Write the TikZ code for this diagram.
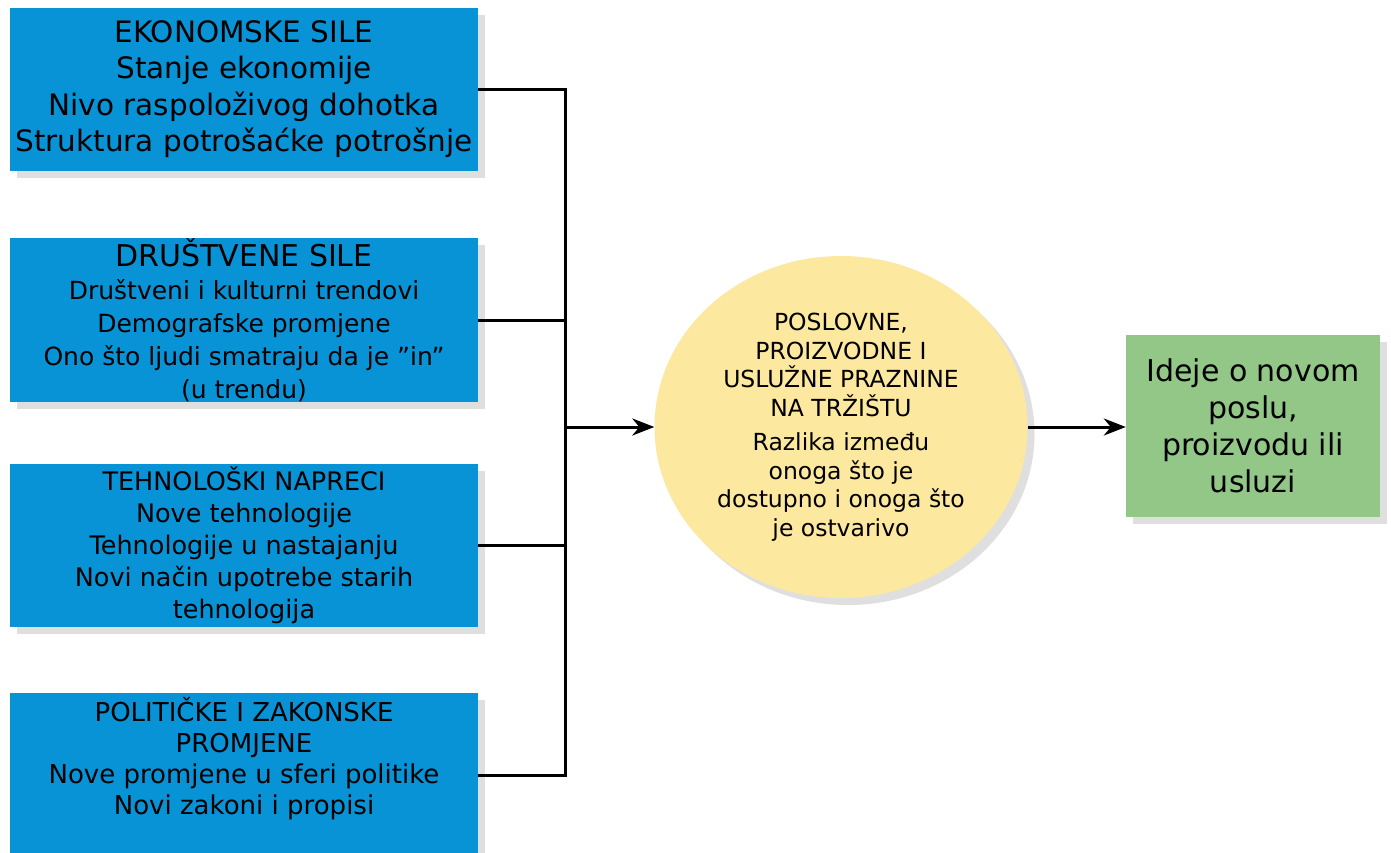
\documentclass[tikz,border=0pt]{standalone}
\usepackage{fontspec}
\setmainfont{DejaVu Sans}
\usepackage{xcolor}
\usepackage{tikz}
\usetikzlibrary{shapes.geometric, arrows.meta, shadows}
\definecolor{silablue}{RGB}{8,147,214}
\definecolor{idejagreen}{RGB}{146,199,136}
\definecolor{prazninayellow}{RGB}{253,232,160}
\tikzstyle{sjena} = [drop shadow={shadow xshift=7pt, shadow yshift=-7pt, opacity=0.25}]
\tikzstyle{sila} = [rectangle, fill=silablue, minimum width=468pt, minimum height=163pt, inner sep=0pt, align=center, sjena]
\tikzstyle{praznina} = [ellipse, fill=prazninayellow, minimum width=373pt, minimum height=342pt, inner sep=0pt, align=center, sjena]
\tikzstyle{ideja} = [rectangle, fill=idejagreen, minimum width=254pt, minimum height=182pt, inner sep=0pt, align=center, sjena]
\tikzstyle{veza} = [line width=3pt]
\tikzstyle{arrow} = [line width=3pt,-{Stealth[length=22pt,width=17pt,inset=7pt]}]

\begin{document}
\begin{tikzpicture}[x=1pt,y=-1pt,line cap=butt,line join=miter]
    \useasboundingbox[fill=white] (0,0) rectangle (1391,852);
    \node[sila, font=\fontsize{29.5}{36.5}\selectfont] (eko) at (244,89) {EKONOMSKE SILE\\Stanje ekonomije\\Nivo raspoloživog dohotka\\Struktura potrošaćke potrošnje};
    \node[sila, minimum height=164pt, font=\fontsize{25}{33}\selectfont] (drus) at (244,320) {{\fontsize{30}{33}\selectfont DRUŠTVENE SILE}\\Društveni i kulturni trendovi\\Demografske promjene\\Ono što ljudi smatraju da je \symbol{34}in\symbol{34}\\(u trendu)};
    \node[sila, font=\fontsize{25.5}{32}\selectfont] (teh) at (244,545.5) {TEHNOLOŠKI NAPRECI\\Nove tehnologije\\Tehnologije u nastajanju\\Novi način upotrebe starih\\tehnologija};
    \node[sila, minimum height=164pt] (pol) at (244,775) {};
    \node[anchor=north, inner sep=4pt, align=center, font=\fontsize{26}{31}\selectfont] (poltekst) at (pol.north) {POLITIČKE I ZAKONSKE\\PROMJENE\\Nove promjene u sferi politike\\Novi zakoni i propisi};
    \node[praznina, font=\fontsize{23.5}{28.5}\selectfont] (jaz) at (841,427) {POSLOVNE,\\PROIZVODNE I\\USLUŽNE PRAZNINE\\NA TRŽIŠTU\\[6pt]Razlika između\\onoga što je\\dostupno i onoga što\\je ostvarivo};
    \node[ideja, font=\fontsize{30}{37}\selectfont] (ideja) at (1253,426) {Ideje o novom\\poslu,\\proizvodu ili\\usluzi};
    \coordinate (sab) at (565,427);
    \draw[veza] (eko.east) -- (eko.east -| sab) -- (pol.east -| sab) -- (pol.east);
    \draw[veza] (drus.east) -- (drus.east -| sab);
    \draw[veza] (teh.east) -- (teh.east -| sab);
    \draw[arrow] (sab) -- (jaz.west);
    \draw[arrow] (jaz.east) -- (jaz.east -| ideja.west);
\end{tikzpicture}
\end{document}
